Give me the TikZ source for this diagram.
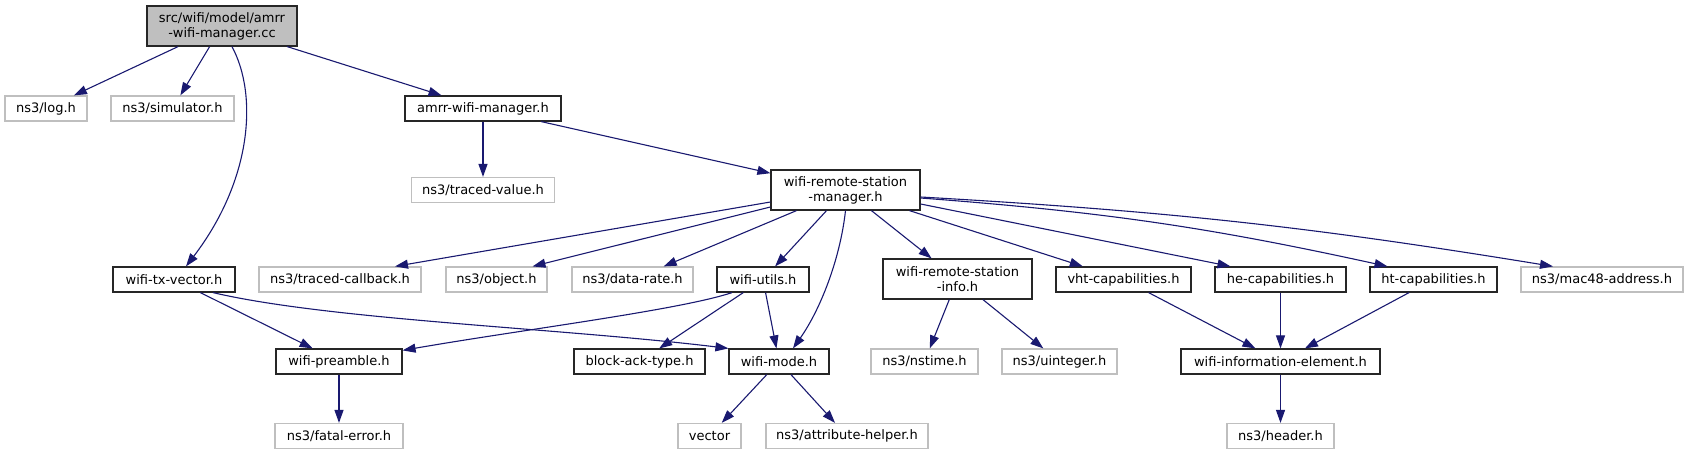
\documentclass[tikz,border=0pt]{standalone}
\usepackage{fontspec}
\setmainfont{DejaVu Sans}
\usepackage{tikz}
\usetikzlibrary{arrows.meta}
\definecolor{edgeblue}{HTML}{191970}
\definecolor{greyline}{HTML}{BFBFBF}

\begin{document}
\begin{tikzpicture}[
    x=1pt, y=-1pt,
    box/.style={rectangle, draw=black!85, line width=1.2pt, inner sep=0pt, align=center, minimum height=25pt, font=\fontsize{13}{15}\selectfont},
    graybox/.style={box, draw=greyline},
    rootbox/.style={box, fill=greyline, minimum height=40pt},
    arrow/.style={-{Triangle[length=13pt,width=9pt]}, draw=edgeblue, line width=1.1pt}
]
\useasboundingbox (0,0) rectangle (1688,455);

\node[rootbox, minimum width=150pt] (root) at (222,26) {src/wifi/model/amrr\\-wifi-manager.cc};
\node[graybox, minimum width=82pt] (log) at (46,108.5) {ns3/log.h};
\node[graybox, minimum width=123pt] (sim) at (172.5,108.5) {ns3/simulator.h};
\node[box, minimum width=156pt] (amrr) at (483,108.5) {amrr-wifi-manager.h};
\node[graybox, minimum width=143pt] (tval) at (483,190) {ns3/traced-value.h};
\node[box, minimum width=149pt, minimum height=40pt] (wsm) at (845.5,190) {wifi-remote-station\\-manager.h};
\node[box, minimum width=122pt] (txv) at (174,279.5) {wifi-tx-vector.h};
\node[graybox, minimum width=162pt] (tcb) at (340,279.5) {ns3/traced-callback.h};
\node[graybox, minimum width=101pt] (obj) at (496.5,279.5) {ns3/object.h};
\node[graybox, minimum width=121pt] (drate) at (632.5,279.5) {ns3/data-rate.h};
\node[box, minimum width=92pt] (utils) at (763,279.5) {wifi-utils.h};
\node[box, minimum width=149pt, minimum height=40pt] (wrsi) at (957.5,279) {wifi-remote-station\\-info.h};
\node[box, minimum width=135pt] (vht) at (1123.5,279.5) {vht-capabilities.h};
\node[box, minimum width=131pt] (he) at (1280.5,279.5) {he-capabilities.h};
\node[box, minimum width=127pt] (ht) at (1433.5,279.5) {ht-capabilities.h};
\node[graybox, minimum width=162pt] (mac) at (1602,279.5) {ns3/mac48-address.h};
\node[box, minimum width=126pt] (pre) at (339,361.5) {wifi-preamble.h};
\node[box, minimum width=131pt] (bat) at (639.5,361.5) {block-ack-type.h};
\node[box, minimum width=100pt] (mode) at (779,361.5) {wifi-mode.h};
\node[graybox, minimum width=107pt] (nst) at (924.5,361.5) {ns3/nstime.h};
\node[graybox, minimum width=115pt] (uint) at (1059.5,361.5) {ns3/uinteger.h};
\node[box, minimum width=199pt] (wie) at (1280.5,361.5) {wifi-information-element.h};
\node[graybox, minimum width=128pt] (fatal) at (339,436) {ns3/fatal-error.h};
\node[graybox, minimum width=63pt] (vec) at (709.5,436) {vector};
\node[graybox, minimum width=162pt] (attr) at (847,436) {ns3/attribute-helper.h};
\node[graybox, minimum width=107pt] (hdr) at (1280.5,436) {ns3/header.h};

\draw[arrow] (root) -- (log);
\draw[arrow] (root) -- (sim);
\draw[arrow] ([xshift=10pt]root.south) .. controls (258,95) and (252,180) .. ([xshift=12pt]txv.north);
\draw[arrow] (root) -- (amrr);
\draw[arrow] (amrr) -- (tval);
\draw[arrow] (amrr) -- (wsm);
\draw[arrow] ([yshift=-12pt]wsm.west) -- ([xshift=55pt]tcb.north);
\draw[arrow] ([yshift=-17pt]wsm.west) -- ([xshift=36pt]obj.north);
\draw[arrow] (wsm) -- (drate);
\draw[arrow] (wsm) -- (utils);
\draw[arrow] (wsm.south) .. controls (840,260) and (820,310) .. ([xshift=14pt]mode.north);
\draw[arrow] (wsm) -- (wrsi);
\draw[arrow] (wsm) -- (vht);
\draw[arrow] ([yshift=-14pt]wsm.east) -- ([xshift=-50pt]he.north);
\draw[arrow] ([yshift=-8pt]wsm.east) to[bend left=4] ([xshift=-46pt]ht.north);
\draw[arrow] ([yshift=-7pt]wsm.east) to[bend left=3] ([xshift=-49pt]mac.north);
\draw[arrow] (txv) -- (pre);
\draw[arrow] ([xshift=39pt]txv.south) .. controls (330,320) and (560,328) .. (mode.north west);
\draw[arrow] ([xshift=-31pt]utils.south) .. controls (680,310) and (520,330) .. ([yshift=-2pt]pre.north east);
\draw[arrow] (utils) -- (bat);
\draw[arrow] (utils) -- (mode);
\draw[arrow] (wrsi) -- (nst);
\draw[arrow] (wrsi) -- (uint);
\draw[arrow] (vht) -- (wie);
\draw[arrow] (he) -- (wie);
\draw[arrow] (ht) -- (wie);
\draw[arrow] (pre) -- (fatal);
\draw[arrow] (mode) -- (vec);
\draw[arrow] (mode) -- (attr);
\draw[arrow] (wie) -- (hdr);
\end{tikzpicture}
\end{document}
